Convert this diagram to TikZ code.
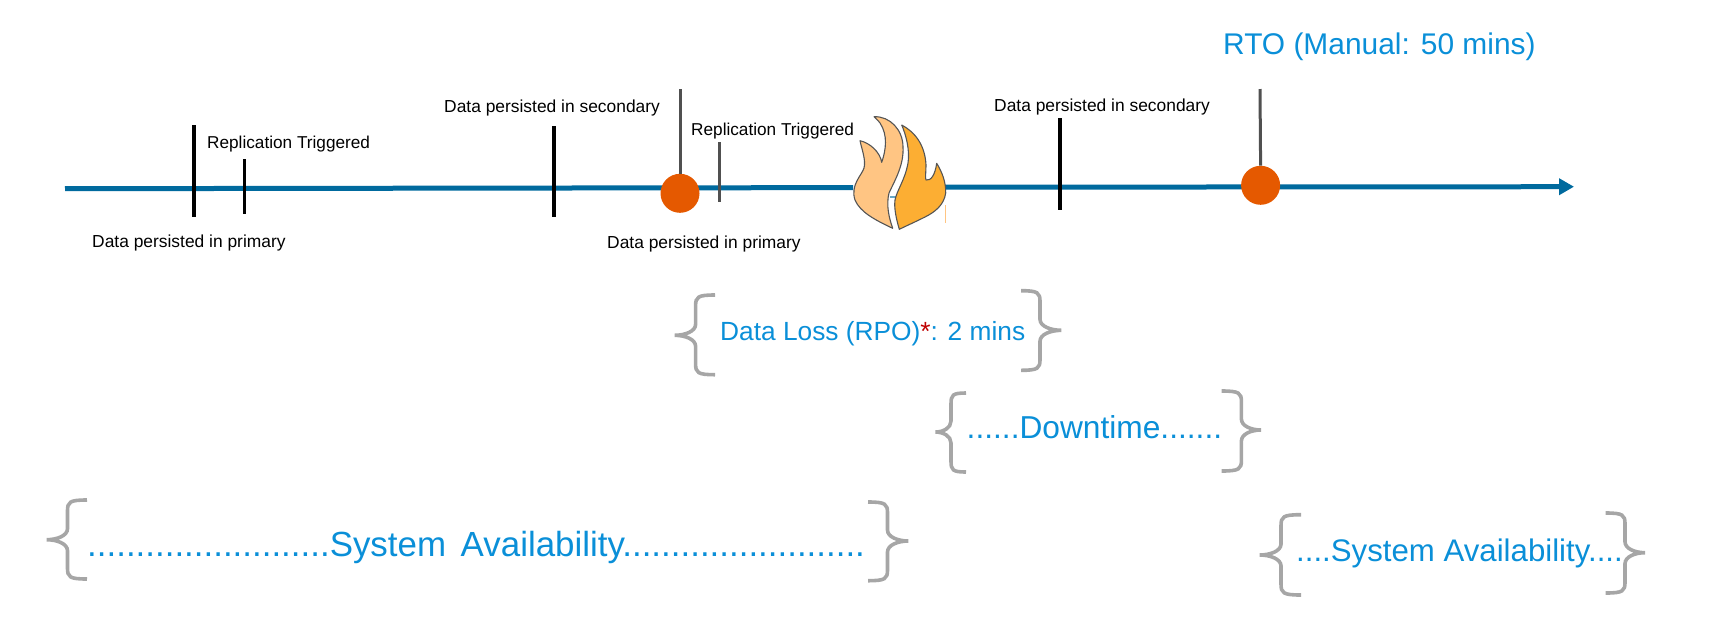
\documentclass[tikz,border=0pt]{standalone}
\usepackage{fontspec}
\setmainfont{Liberation Sans}
\usetikzlibrary{arrows.meta}
\definecolor{axisblue}{HTML}{006A9E}
\definecolor{dotorange}{HTML}{E55900}
\definecolor{textblue}{HTML}{0A8FD8}
\definecolor{bracegray}{HTML}{A6A6A6}
\definecolor{postgray}{HTML}{505050}
\definecolor{flamelight}{HTML}{FFC583}
\definecolor{flamedark}{HTML}{FCAE33}
\definecolor{flameline}{HTML}{555555}
\definecolor{starred}{HTML}{C00000}
\tikzset{
  axisline/.style={draw=axisblue,line width=5pt},
  blacktick/.style={draw=black,line width=3.2pt},
  graypost/.style={draw=postgray,line width=3pt},
  event/.style={circle,fill=dotorange,draw=none,minimum size=39pt,inner sep=0pt},
  smalllabel/.style={anchor=base west,inner sep=0pt,font=\fontsize{17.4}{20}\selectfont,text=black},
  biglabel/.style={anchor=base west,inner sep=0pt,text=textblue},
  bracket/.style={draw=bracegray,line width=3.6pt,line cap=butt},
  flameshape/.style={draw=flameline,line width=1.1pt,line join=round},
}
\newcommand{\curlyb}[7][]{% end x, stem x, tip x, top, mid, bottom
  \draw[bracket] (#2,#5) .. controls ({#3+(#2-#3)*0.1},#5) and (#3,{#5+2}) .. (#3,{#5+11})
    -- (#3,{#6-11}) .. controls (#3,{#6-4}) and ({#4+(#3-#4)*0.5},#6) .. (#4,#6)
    .. controls ({#4+(#3-#4)*0.5},#6) and (#3,{#6+4}) .. (#3,{#6+11})
    -- (#3,{#7-11}) .. controls (#3,{#7-2}) and ({#3+(#2-#3)*0.1},#7) .. (#2,#7);}
\begin{document}
\begin{tikzpicture}[x=1pt,y=-1pt]
\useasboundingbox (0,0) rectangle (1723,625);
% axis
\draw[axisline] (65,188.7) -- (853,187.6);
\draw[axisline,-{Triangle[length=15pt,width=16pt]}] (945,187.2) -- (1574,186.7);
\draw[draw=axisblue!60!white,line width=2pt] (890,196.5) -- (897,196.5);
\draw[draw=flamelight,line width=0.8pt] (945.5,205) -- (945.5,223);
% ticks
\draw[blacktick] (194,125) -- (194,217);
\draw[blacktick] (244.6,159) -- (244.6,214);
\draw[blacktick] (554,126) -- (554,217);
\draw[blacktick] (1060,118) -- (1060,210);
\draw[graypost] (719,142) -- (719,202);
% event dots
\coordinate (postA) at (680,89);
\coordinate (postB) at (1260,89);
\node[event] (dotA) at (680,193.3) {};
\node[event] (dotB) at (1260.6,185.3) {};
\draw[graypost] (postA) -- (dotA.north);
\draw[graypost] (postB) -- (dotB.north);
% flame
\filldraw[flameshape,fill=flamelight]
  (892.7,228.3) .. controls (875,220) and (860,212) .. (855,200)
  .. controls (850,185) and (862,175) .. (864,168)
  .. controls (866,160) and (862,150) .. (860,140.7)
  .. controls (870,143) and (880,152) .. (881.7,162.3)
  .. controls (886,150) and (888,135) .. (880,123)
  .. controls (877,119) and (875,118) .. (874,116.7)
  .. controls (890,116) and (903,130) .. (903,147)
  .. controls (904,165) and (895,180) .. (889,193)
  .. controls (886,205) and (889,218) .. (892.7,228.3) -- cycle;
\filldraw[flameshape,fill=flamedark]
  (899.3,229.3) .. controls (896,218) and (894,208) .. (895,200)
  .. controls (897,190) and (905,180) .. (908,163)
  .. controls (910,150) and (906,135) .. (901.7,125)
  .. controls (915,132) and (925,145) .. (926,165)
  .. controls (926,172) and (925,178) .. (926,180)
  .. controls (931,181) and (935,175) .. (936.7,163.3)
  .. controls (942,172) and (946,182) .. (945.7,193)
  .. controls (944,205) and (935,212) .. (925,217)
  .. controls (915,222) and (906,226) .. (899.3,229.3) -- cycle;
% small labels
\node[smalllabel] (primA) at (92,247) {Data persisted in primary};
\node[smalllabel,font=\fontsize{17.2}{20}\selectfont] (replA) at (207,148.7) {Replication Triggered};
\node[smalllabel] (secA) at (444,112.7) {Data persisted in secondary};
\node[smalllabel,font=\fontsize{17.2}{20}\selectfont] (replB) at (691,135) {Replication Triggered};
\node[smalllabel] (primB) at (607,248) {Data persisted in primary};
\node[smalllabel] (secB) at (994,111.7) {Data persisted in secondary};
% large labels
\node[biglabel,font=\fontsize{29.9}{34}\selectfont] (rto) at (1223,54.5) {RTO (Manual: 50 mins)};
\node[biglabel,font=\fontsize{26.3}{30}\selectfont] (loss) at (720,340) {Data Loss (RPO)\textcolor{starred}{*}: 2 mins};
\node[biglabel,font=\fontsize{31.7}{36}\selectfont] (down) at (966.5,438) {......Downtime.......};
\node[biglabel,font=\fontsize{34.9}{40}\selectfont] (sysA) at (87,556) {.........................System\hspace{0.42em}Availability.........................};
\node[biglabel,font=\fontsize{31.2}{36}\selectfont] (sysB) at (1296,561) {....System Availability....};
% braces
\curlyb{715}{695.6}{674.7}{295}{335.3}{374.7}
\curlyb{1021}{1040}{1061.4}{290.7}{330.3}{370.3}
\curlyb{966}{951}{935.4}{393}{432}{472}
\curlyb{1221.6}{1241.4}{1261}{391}{430}{471}
\curlyb{87}{67.5}{46.6}{500}{539.7}{579}
\curlyb{868}{887.5}{908.4}{502}{541}{580.7}
\curlyb{1301}{1281}{1259.6}{514.7}{555}{595}
\curlyb{1605.7}{1625}{1645}{513}{552.7}{593}
\end{tikzpicture}
\end{document}
